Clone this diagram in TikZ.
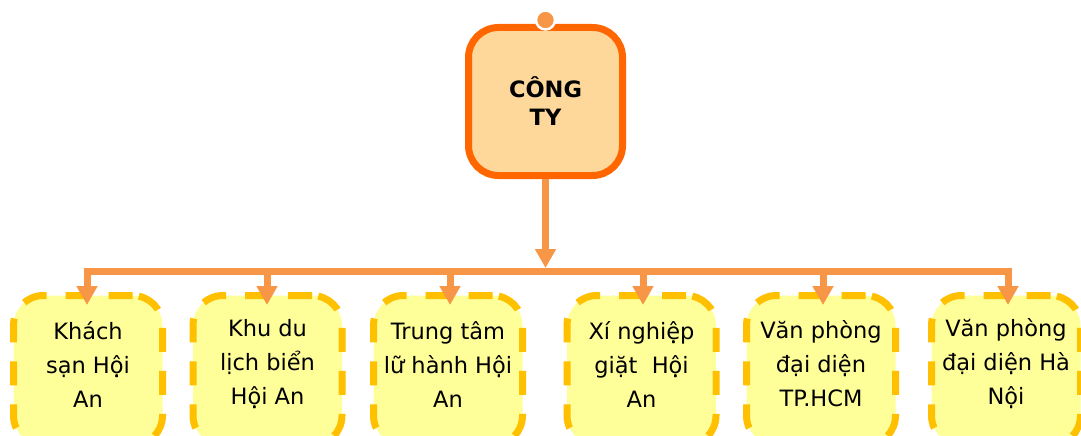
\documentclass[tikz,border=0pt]{standalone}
\usepackage{fontspec}
\setmainfont{DejaVu Sans}
\usetikzlibrary{arrows.meta}
\definecolor{topfill}{HTML}{FDD89A}
\definecolor{topborder}{HTML}{FF6600}
\definecolor{conncol}{HTML}{F79646}
\definecolor{childfill}{HTML}{FFFF99}
\definecolor{childborder}{HTML}{FFC000}
\tikzset{
  topbox/.style={draw=topborder, fill=topfill, line width=7pt, rounded corners=30pt,
    minimum width=154pt, minimum height=148pt, inner sep=0pt, align=center,
    font=\fontsize{22.5}{28}\selectfont\bfseries},
  childbox/.style={draw=childborder, fill=childfill, line width=7pt, rounded corners=30pt,
    dash pattern=on 24pt off 19pt, minimum width=149pt, minimum height=150pt, inner sep=0pt},
  childtext/.style={align=center, inner sep=0pt, font=\fontsize{22.5}{34}\selectfont},
  conn/.style={draw=conncol, line width=7pt},
  arr/.style={conn, -{Triangle[width=20pt,length=19pt]}},
}
\begin{document}
\begin{tikzpicture}[x=1pt,y=-1pt]
\clip (0,0) rectangle (1081,436);
\useasboundingbox (0,0) rectangle (1081,436);
\fill[white] (0,0) rectangle (1081,436);
% top box
\node[topbox] (top) at (545.5,101.5) {CÔNG\\TY};
\node[circle, draw=white, line width=2.5pt, fill=conncol, minimum size=19pt, inner sep=0pt] (dot) at (545.5,20) {};
% child boxes
\foreach \n/\x in {b1/88, b2/267.5, b3/448, b4/641.5, b5/821, b6/1006}{
  \node[childbox] (\n) at (\x,370.5) {};
}
\node[childtext] (t1) at (88,364) {Khách\\sạn Hội\\An};
\node[childtext] (t2) at (267.5,364) {Khu du\\lịch biển\\Hội An};
\node[childtext] (t3) at (448,364) {Trung tâm\\lữ hành Hội\\An};
\node[childtext] (t4) at (641.5,364) {Xí nghiệp\\giặt\ \ Hội\\An};
\node[childtext] (t5) at (821,364) {Văn phòng\\đại diện\\TP.HCM};
\node[childtext] (t6) at (1006,364) {Văn phòng\\đại diện Hà\\Nội};
% connectors
\coordinate (bus) at (545.5,271);
\draw[arr, shorten >=3pt] (top.south) -- (bus);
\foreach \n/\x in {b1/87, b2/267, b3/450, b4/643, b5/823, b6/1008}{
  \coordinate (\n top) at (\x,305);
  \draw[arr] (bus) -| (\n top);
}
\end{tikzpicture}
\end{document}
